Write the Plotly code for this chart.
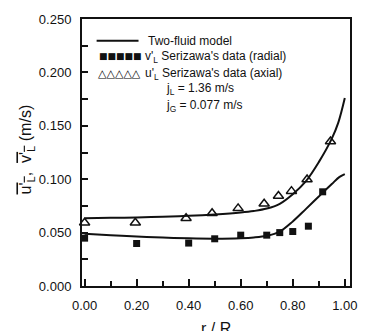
import plotly.graph_objects as go

# ---------------- data ----------------
model_x = [0.0, 0.1, 0.2, 0.3, 0.4, 0.5, 0.6, 0.65, 0.7, 0.75, 0.8, 0.85, 0.9, 0.95, 0.975, 1.0]
model_upper = [0.0635, 0.0638, 0.0642, 0.0648, 0.0657, 0.0670, 0.0688, 0.0702, 0.0725, 0.0770, 0.0860,
               0.0980, 0.1160, 0.1380, 0.1530, 0.1760]
model_lower_x = [0.0, 0.1, 0.2, 0.3, 0.4, 0.5, 0.6, 0.65, 0.7, 0.75, 0.8, 0.85, 0.9, 0.95, 0.98, 1.0]
model_lower = [0.0490, 0.0476, 0.0463, 0.0453, 0.0446, 0.0443, 0.0447, 0.0454, 0.0470, 0.0510, 0.0605,
               0.0720, 0.0838, 0.0955, 0.1022, 0.1048]

axial_x = [0.0, 0.195, 0.39, 0.49, 0.59, 0.69, 0.745, 0.795, 0.855, 0.945]
axial_u = [0.0593, 0.0593, 0.0634, 0.0681, 0.0727, 0.0770, 0.0842, 0.0888, 0.0997, 0.1353]

radial_x = [0.0, 0.2, 0.4, 0.5, 0.6, 0.7, 0.75, 0.8, 0.86, 0.915]
radial_v = [0.0448, 0.0398, 0.0402, 0.0442, 0.0476, 0.0476, 0.0500, 0.0510, 0.0560, 0.0882]

x_ticks = [0.0, 0.2, 0.4, 0.6, 0.8, 1.0]
y_ticks = [0.0, 0.05, 0.10, 0.15, 0.20, 0.25]

# ---------------- layout helpers ----------------
W, H = 369, 331
ML, MR, MT, MB = 82, 12, 17, 45
PW, PH = W - ML - MR, H - MT - MB


def px(x):
    return (x - ML) / PW


def py(y):
    return (H - MB - y) / PH


FONT = "Arial, Liberation Sans, sans-serif"
INK = "#111111"

fig = go.Figure()
fig.add_trace(go.Scatter(x=model_x, y=model_upper, mode="lines",
                         line=dict(color=INK, width=2, shape="spline", smoothing=1.0),
                         cliponaxis=False, showlegend=False))
fig.add_trace(go.Scatter(x=model_lower_x, y=model_lower, mode="lines",
                         line=dict(color=INK, width=2, shape="spline", smoothing=1.0),
                         cliponaxis=False, showlegend=False))
fig.add_trace(go.Scatter(x=radial_x, y=radial_v, mode="markers",
                         marker=dict(symbol="square", size=7, color=INK), cliponaxis=False, showlegend=False))
fig.add_trace(go.Scatter(x=axial_x, y=axial_u, mode="markers",
                         marker=dict(symbol="triangle-up-open", size=9, color=INK, line=dict(width=1.5)),
                         cliponaxis=False, showlegend=False))

axis_common = dict(showline=True, linecolor=INK, linewidth=2, mirror=True, showgrid=False, zeroline=False,
                   ticks="inside", tickcolor=INK, tickwidth=1.5,
                   tickfont=dict(family=FONT, size=13, color=INK))

fig.update_xaxes(range=[-0.01, 1.02], tickvals=x_ticks, tickformat=".2f", ticklen=7, ticklabelstandoff=6,
                 minor=dict(dtick=0.1, tick0=0, ticks="inside", ticklen=5, tickcolor=INK, tickwidth=1.5),
                 **axis_common)
fig.update_yaxes(range=[0, 0.25], tickvals=y_ticks, tickformat=".3f", ticklen=6, ticklabelstandoff=6,
                 minor=dict(dtick=0.025, tick0=0, ticks="inside", ticklen=6, tickcolor=INK, tickwidth=1.5),
                 **axis_common)

ann = []
# axis titles
ann.append(dict(text="r / R", x=0.5, y=py(329), xref="paper", yref="paper", showarrow=False,
                xanchor="center", yanchor="middle", font=dict(family=FONT, size=16, color=INK)))
ann.append(dict(text='<span style="text-decoration:overline">u\'<sub>L</sub></span>,  '
                     '<span style="text-decoration:overline">v\'<sub>L</sub></span> (m/s)',
                x=px(25), y=py(148), xref="paper", yref="paper", showarrow=False, textangle=-90,
                xanchor="center", yanchor="middle", font=dict(family=FONT, size=16, color=INK)))

# legend block
leg_font = dict(family=FONT, size=12, color=INK)
ann.append(dict(text="Two-fluid model", x=px(148), y=py(39), xref="paper", yref="paper", showarrow=False,
                xanchor="left", yanchor="middle", font=leg_font))
ann.append(dict(text="■■■■■", x=px(97), y=py(54), xref="paper", yref="paper", showarrow=False,
                xanchor="left", yanchor="middle", font=dict(family="DejaVu Sans", size=9, color=INK)))
ann.append(dict(text="v'<sub>L</sub> Serizawa's data (radial)", x=px(145), y=py(55), xref="paper", yref="paper",
                showarrow=False, xanchor="left", yanchor="middle", font=leg_font))
ann.append(dict(text="△△△△△", x=px(96), y=py(72), xref="paper", yref="paper", showarrow=False,
                xanchor="left", yanchor="middle", font=dict(family="DejaVu Sans", size=11, color="#000000")))
ann.append(dict(text="u'<sub>L</sub> Serizawa's data (axial)", x=px(145), y=py(72), xref="paper", yref="paper",
                showarrow=False, xanchor="left", yanchor="middle", font=leg_font))
ann.append(dict(text="j<sub>L</sub> = 1.36 m/s", x=px(166), y=py(88), xref="paper", yref="paper",
                showarrow=False, xanchor="left", yanchor="middle", font=leg_font))
ann.append(dict(text="j<sub>G</sub> = 0.077 m/s", x=px(166), y=py(105), xref="paper", yref="paper",
                showarrow=False, xanchor="left", yanchor="middle", font=leg_font))

fig.update_layout(
    width=W, height=H, margin=dict(l=ML, r=MR, t=MT, b=MB),
    paper_bgcolor="white", plot_bgcolor="white", showlegend=False,
    annotations=ann,
    shapes=[dict(type="line", xref="paper", yref="paper", x0=px(97), x1=px(140), y0=py(39), y1=py(39),
                 line=dict(color=INK, width=2))],
)

fig.write_html("out.html")
